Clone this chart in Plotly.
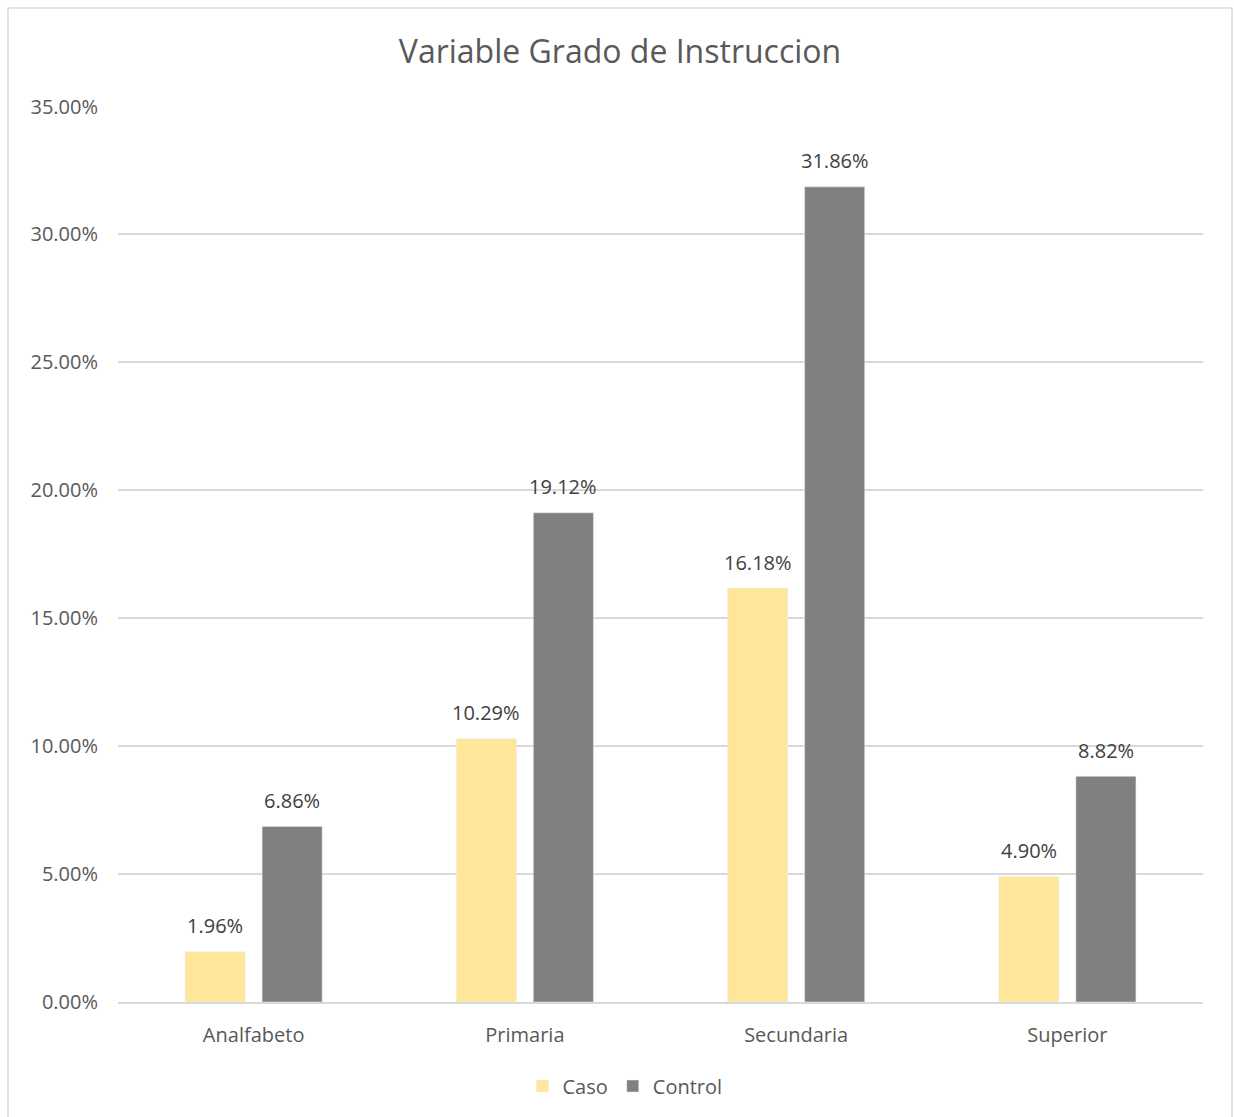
import plotly.graph_objects as go

categories = ["Analfabeto", "Primaria", "Secundaria", "Superior"]
caso = [0.0196, 0.1029, 0.1618, 0.0490]
control = [0.0686, 0.1912, 0.3186, 0.0882]
y_ticks = [0, 0.05, 0.10, 0.15, 0.20, 0.25, 0.30, 0.35]

W, H = 1234, 1117
L, R, T, B = 118, 31, 106, 115
FONT = "Open Sans"
TXT = "#595959"
LBL = "#404040"
BARGAP, GROUPGAP = 0.432, 0.22

pw = W - L - R
ph = H - T - B
cat_w = pw / len(categories)
slot = (1 - BARGAP) * cat_w / 2

fig = go.Figure()
fig.add_trace(go.Bar(name="Caso", x=categories, y=caso, marker_color="#FFE699"))
fig.add_trace(go.Bar(name="Control", x=categories, y=control, marker_color="#808080"))

for vals, sign in ((caso, -1), (control, 1)):
    for c, v in zip(categories, vals):
        fig.add_annotation(x=c, y=v, text=f"{v*100:.2f}%", showarrow=False,
                           xshift=sign * slot / 2, yshift=26, yanchor="middle",
                           font=dict(family=FONT, size=20, color=LBL))

fig.add_shape(type="rect", xref="paper", yref="paper",
              x0=(8 - L) / pw, x1=(1232 - L) / pw,
              y0=(H - 1130 - B) / ph, y1=(H - 8 - B) / ph,
              line=dict(color="#D9D9D9", width=1.5), fillcolor="rgba(0,0,0,0)", layer="below")

fig.update_layout(
    width=W, height=H,
    margin=dict(l=L, r=R, t=T, b=B),
    paper_bgcolor="white", plot_bgcolor="white",
    barmode="group", bargap=BARGAP, bargroupgap=GROUPGAP,
    title=dict(text="Variable Grado de Instruccion", x=620 / W, xanchor="center",
               y=1 - 52 / H, yanchor="middle",
               font=dict(family=FONT, size=32, color=TXT)),
    font=dict(family=FONT, size=20, color=TXT),
    legend=dict(orientation="h", x=625 / W, xanchor="center", xref="container",
                y=1 - 1086 / H, yanchor="middle", yref="container",
                font=dict(family=FONT, size=20, color=TXT),
                itemwidth=30, traceorder="normal"),
    yaxis=dict(range=[0, 0.3502], tickvals=y_ticks, tickformat=".2%",
               showgrid=True, gridcolor="#D9D9D9", gridwidth=1.5,
               zeroline=False, ticklabelstandoff=19,
               tickfont=dict(family=FONT, size=20, color=TXT)),
    xaxis=dict(showline=True, linecolor="#D9D9D9", linewidth=1.5,
               ticklabelstandoff=14,
               tickfont=dict(family=FONT, size=20, color=TXT)),
)

fig.write_html("out.html", config={"displayModeBar": False},
               post_script="document.body.style.margin='0';document.body.style.overflow='hidden';")
